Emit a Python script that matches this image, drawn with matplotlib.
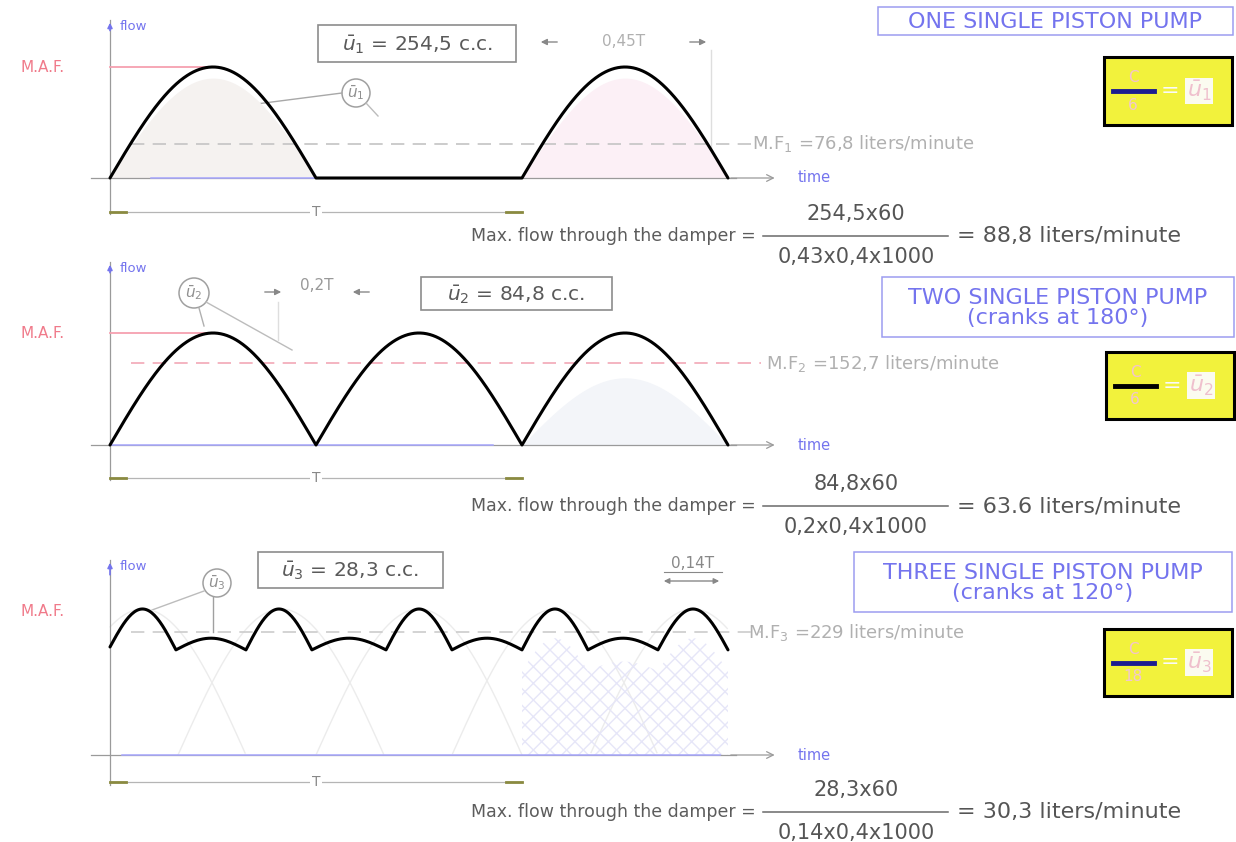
import numpy as np
import matplotlib
matplotlib.use("Agg")
import matplotlib.pyplot as plt
from matplotlib.patches import Rectangle, Circle

W, H = 1236, 842
X0, TPX = 110, 412          # pixel position of t=0 and pixel length of one period T

# ---- flow curves: time in periods T, flow relative to each panel's peak ----
stroke = 0.5
one_starts = [0.0, 1.0]
two_starts = [0.0, 0.5, 1.0]
three_cusps = [0.0, 0.16, 0.33, 0.49, 0.67, 0.83, 1.0, 1.16, 1.33, 1.5]
three_cusp_q = [0.74, 0.72, 0.72, 0.72, 0.72, 0.72, 0.72, 0.72, 0.72, 0.72]
three_apex_q = [1.0, 0.80, 1.0, 0.80, 1.0, 0.80, 1.0, 0.80, 1.0]
three_single_starts = [-0.50, -0.17, 0.165, 0.50, 0.83, 1.165]
mean_q = [0.31, 0.73, 0.84]

# ---- labels ----
titles = ["ONE SINGLE PISTON PUMP",
          "TWO SINGLE PISTON PUMP\n(cranks at 180°)",
          "THREE SINGLE PISTON PUMP\n(cranks at 120°)"]
volumes = ["254,5", "84,8", "28,3"]
mean_flows = ["76,8", "152,7", "229"]
numerators = ["254,5x60", "84,8x60", "28,3x60"]
denominators = ["0,43x0,4x1000", "0,2x0,4x1000", "0,14x0,4x1000"]
results = ["88,8", "63.6", "30,3"]
box_denoms = ["6", "6", "18"]

# ---- panel geometry (pixels) ----
bases = [178, 445, 755]
units = [111, 112, 146]
tops = [10, 255, 548]
bots = [225, 490, 795]
axis_tops = [20, 262, 560]
dims = [212, 478, 782]
title_boxes = [(878, 7, 355, 28), (882, 277, 352, 60), (854, 552, 378, 60)]
yellow_boxes = [(1104, 57, 128, 68), (1106, 352, 128, 67), (1104, 629, 128, 67)]
vol_boxes = [(318, 25, 198, 37), (421, 277, 191, 33), (258, 552, 185, 36)]
formula_y = [236, 506, 812]

BLUE = "#7474ee"
GRAY = "#9a9a9a"
RED = "#f07a8a"

fig = plt.figure(figsize=(W / 100, H / 100), dpi=100)
ann = fig.add_axes([0, 0, 1, 1])
ann.set_xlim(0, W)
ann.set_ylim(H, 0)
ann.axis("off")


def panel_axes(base, unit, top, bot, left=60, right=830):
    ax = fig.add_axes([left / W, 1 - bot / H, (right - left) / W, (bot - top) / H])
    ax.set_xlim((left - X0) / TPX, (right - X0) / TPX)
    ax.set_ylim((base - bot) / unit, (base - top) / unit)
    ax.axis("off")
    ax.patch.set_alpha(0)
    return ax


def rectified(starts, t):
    q = np.zeros_like(t)
    for s in starts:
        m = (t >= s) & (t <= s + stroke)
        q[m] = np.maximum(q[m], np.sin(np.pi * (t[m] - s) / stroke))
    return q


t = np.linspace(0, 1.5, 1201)
curves = [(t, rectified(one_starts, t)), (t, rectified(two_starts, t))]
t3, q3 = [], []
for i in range(len(three_apex_q)):
    u = np.linspace(0, 1, 50)
    a, b = three_cusp_q[i], three_cusp_q[i + 1]
    t3.append(three_cusps[i] + (three_cusps[i + 1] - three_cusps[i]) * u)
    q3.append(a + (b - a) * u + (three_apex_q[i] - (a + b) / 2) * np.sin(np.pi * u))
curves.append((np.concatenate(t3), np.concatenate(q3)))

for k in range(3):
    base, unit = bases[k], units[k]
    ax = panel_axes(base, unit, tops[k], bots[k])
    tt, qq = curves[k]
    q_dim = (base - dims[k]) / unit
    q_top = (base - axis_tops[k]) / unit

    # pale shading under some strokes
    if k == 0:
        m = tt <= 0.5
        ax.fill_between(tt[m], 0, qq[m] * 0.9, color="#f5f2f0", lw=0)
        m = tt >= 1.0
        ax.fill_between(tt[m], 0, qq[m] * 0.9, color="#fcf0f6", lw=0)
    elif k == 1:
        m = tt >= 1.0
        ax.fill_between(tt[m], 0, qq[m] * 0.6, color="#f3f5f9", lw=0)
    else:
        ts = np.linspace(-0.6, 1.6, 800)
        for s in three_single_starts:
            m = (ts >= max(s, 0)) & (ts <= min(s + stroke, 1.5))
            ax.plot(ts[m], np.sin(np.pi * (ts[m] - s) / stroke), color="#ececec", lw=1, zorder=1)
        m = tt >= 1.0
        ax.fill_between(tt[m], 0, qq[m] * 0.8, facecolor="none", edgecolor="#e6e6f8",
                        hatch="xx", lw=0, zorder=1)

    # axes
    ax.plot([0, 0], [q_dim - 0.02, q_top], color=GRAY, lw=0.9)
    ax.annotate("", xy=(0, q_top), xytext=(0, q_top - 0.12),
                arrowprops=dict(arrowstyle="-|>", color=BLUE, lw=1.2, mutation_scale=7))
    ax.plot([-0.045, 1.52], [0, 0], color=GRAY, lw=0.9)
    blue_span = [(0.1, 0.5), (0.0, 0.93), (0.03, 1.48)][k]
    ax.plot(blue_span, [0, 0], color="#a8a8ff", lw=1.1)
    ax.annotate("", xy=(1.62, 0), xytext=(1.5, 0),
                arrowprops=dict(arrowstyle="->", color=GRAY, lw=0.9, mutation_scale=12))

    # flow curve
    ax.plot(tt, qq, color="black", lw=2.2, solid_capstyle="round", zorder=5)

    # mean flow line
    mcol = ["#c4c4c4", "#f2a8b6", "#cccccc"][k]
    ax.plot([0.05, 1.58], [mean_q[k], mean_q[k]], color=mcol, lw=1.2, ls=(0, (8, 5)), zorder=2)

    # max flow line
    if k < 2:
        ax.plot([0, 0.25], [1, 1], color="#f6a0b0", lw=1.3, zorder=2)

    # period dimension
    ax.plot([0, 1.0], [q_dim, q_dim], color="#b5b5b5", lw=0.9)
    ax.plot([0, 0.04], [q_dim, q_dim], color="#8a8a40", lw=2.0)
    ax.plot([0.96, 1.0], [q_dim, q_dim], color="#8a8a40", lw=2.0)
    ax.text(0.5, q_dim, "T", ha="center", va="center", fontsize=10, color="#888888",
            bbox=dict(facecolor="white", edgecolor="none", pad=1.5))

    # texts around the panel
    ann.text(120, axis_tops[k] + 6, "flow", color=BLUE, fontsize=9.5, va="center")
    ann.text(798, base, "time", color=BLUE, fontsize=10.5, va="center")
    ann.text(20, base - unit + (0 if k < 2 else 2), "M.A.F.", color=RED, fontsize=11, va="center")
    ann.text([752, 766, 748][k], base - mean_q[k] * unit,
             f"M.F$_{k + 1}$ =" + mean_flows[k] + " liters/minute",
             color="#b0b0b0", fontsize=13, va="center")

    # volume box
    bx, by, bw, bh = vol_boxes[k]
    ann.add_patch(Rectangle((bx, by), bw, bh, fill=False, edgecolor="#8c8c8c", lw=1.2))
    ann.text(bx + bw / 2, by + bh / 2 + 1, rf"$\bar{{u}}_{k + 1}$ = " + volumes[k] + " c.c.",
             ha="center", va="center", fontsize=14.5, color="#5a5a5a")

    # title box
    tx, ty, tw, th = title_boxes[k]
    ann.add_patch(Rectangle((tx, ty), tw, th, fill=False, edgecolor="#9c9cf0", lw=1.1))
    ann.text(tx + tw / 2, ty + th / 2 + 1, titles[k], ha="center", va="center",
             fontsize=16, color=BLUE, linespacing=1.0)

    # yellow result box
    yx, yy, yw, yh = yellow_boxes[k]
    ann.add_patch(Rectangle((yx, yy), yw, yh, facecolor="#f2f23c", edgecolor="black", lw=2.2))
    mid = yy + yh / 2
    ann.plot([yx + 9, yx + 50], [mid, mid], color=["#1c1c90", "black", "#1c1c90"][k], lw=3.5)
    ann.text(yx + 29, mid - 13, "C", ha="center", va="center", fontsize=11, color="#f4c2cf")
    ann.text(yx + 29, mid + 14, box_denoms[k], ha="center", va="center", fontsize=11, color="#f1c6d2")
    ann.text(yx + 66, mid, "=", ha="center", va="center", fontsize=16, color="#fafafa")
    ann.text(yx + 95, mid, rf"$\bar{{u}}_{k + 1}$", ha="center", va="center", fontsize=16,
             color="#efc0cd", bbox=dict(facecolor="#fbfbf0", edgecolor="none", pad=1))

    # damper formula
    fy = formula_y[k]
    ann.text(756, fy, "Max. flow through the damper =", ha="right", va="center",
             fontsize=12.5, color="#5c5c5c")
    ann.plot([763, 948], [fy, fy], color="#6a6a6a", lw=1.1)
    ann.text(856, fy - 22, numerators[k], ha="center", va="center", fontsize=15, color="#555555")
    ann.text(856, fy + 21, denominators[k], ha="center", va="center", fontsize=15, color="#555555")
    ann.text(957, fy, "= " + results[k] + " liters/minute", ha="left", va="center",
             fontsize=16, color="#555555")

# ---- circled labels and leaders ----
for (cx, cy, r), k in zip([(356, 93, 14), (194, 293, 15), (217, 583, 14)], range(3)):
    ann.add_patch(Circle((cx, cy), r, fill=False, edgecolor="#a0a0a0", lw=1.1))
    ann.text(cx, cy, rf"$\bar{{u}}_{k + 1}$", ha="center", va="center", fontsize=11, color="#909090")
ann.plot([233, 342], [107, 93], color="#a8a8a8", lw=1.0)
ann.plot([366, 378], [103, 116], color="#bcbcbc", lw=1.0)
ann.plot([199, 204], [308, 326], color="#b0b0b0", lw=1.0)
ann.plot([206, 292], [302, 350], color="#bcbcbc", lw=1.0)
ann.plot([213, 213], [597, 632], color="#a0a0a0", lw=1.0)
ann.plot([204, 152], [591, 610], color="#bcbcbc", lw=1.0)

# ---- stroke dimensions ----
arrow = dict(arrowstyle="-|>", color="#888888", lw=1.0, mutation_scale=9)
ann.annotate("", xy=(538, 42), xytext=(560, 42), arrowprops=arrow)
ann.annotate("", xy=(709, 42), xytext=(687, 42), arrowprops=arrow)
ann.text(624, 42, "0,45T", ha="center", va="center", fontsize=11, color="#b0b0b0")
ann.plot([711, 711], [50, 172], color="#dedede", lw=1.0)

ann.annotate("", xy=(284, 292), xytext=(262, 292), arrowprops=arrow)
ann.annotate("", xy=(350, 292), xytext=(372, 292), arrowprops=arrow)
ann.text(317, 286, "0,2T", ha="center", va="center", fontsize=11, color="#999999")
ann.plot([278, 278], [302, 340], color="#dedede", lw=1.0)

ann.annotate("", xy=(661, 581), xytext=(722, 581),
             arrowprops=dict(arrowstyle="<|-|>", color="#888888", lw=1.0, mutation_scale=8))
ann.text(693, 563, "0,14T", ha="center", va="center", fontsize=11, color="#888888")
ann.plot([664, 722], [572, 572], color="#888888", lw=0.8)

fig.savefig("out.png", dpi=100)
